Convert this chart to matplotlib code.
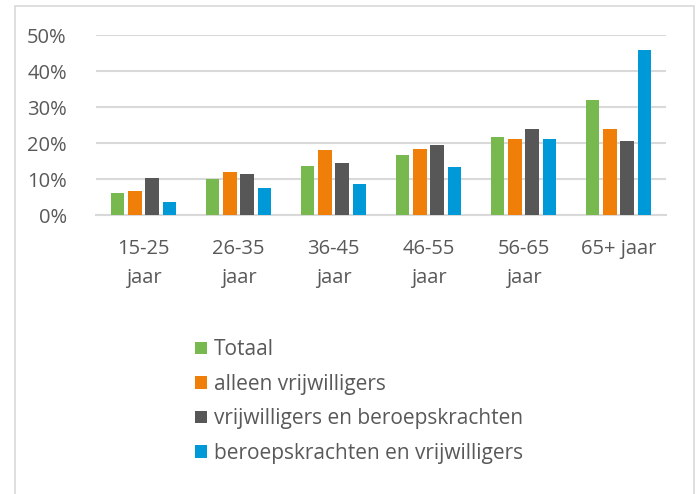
import numpy as np
import matplotlib
matplotlib.use("Agg")
import matplotlib.pyplot as plt
from matplotlib.patches import Rectangle, Patch
from matplotlib.ticker import PercentFormatter

# Data
categories = ["15-25\njaar", "26-35\njaar", "36-45\njaar", "46-55\njaar", "56-65\njaar", "65+ jaar"]
series_names = ["Totaal", "alleen vrijwilligers",
                "vrijwilligers en beroepskrachten", "beroepskrachten en vrijwilligers"]
totaal = [6.2, 10.0, 13.6, 16.6, 21.7, 31.9]
alleen_vrijwilligers = [6.6, 11.9, 18.0, 18.3, 21.1, 23.9]
vrijw_en_beroeps = [10.3, 11.3, 14.5, 19.4, 23.9, 20.5]
beroeps_en_vrijw = [3.6, 7.4, 8.6, 13.3, 21.0, 45.8]
yticks = [0, 10, 20, 30, 40, 50]

colors = ["#77B84F", "#F07F09", "#575757", "#0099D8"]
text_color = "#595959"

plt.rcParams['font.family'] = ['Open Sans', 'DejaVu Sans']

fig = plt.figure(figsize=(6.99, 4.94), dpi=100)
ax = fig.add_axes([96 / 699, 1 - 215 / 494, 570 / 699, 180 / 494])

# outer chart frame
fig.patches.append(Rectangle((15 / 699, -0.05), 679 / 699, 1.05 - 6 / 494,
                             transform=fig.transFigure, fill=False,
                             edgecolor="#d9d9d9", linewidth=1.2))

x = np.arange(len(categories))
pitch = 0.182
width = 0.144
all_series = [totaal, alleen_vrijwilligers, vrijw_en_beroeps, beroeps_en_vrijw]
for i, (vals, name, c) in enumerate(zip(all_series, series_names, colors)):
    ax.bar(x + (i - 1.5) * pitch, vals, width, color=c, label=name, zorder=3)

ax.set_xlim(-0.5, len(categories) - 0.5)
ax.set_ylim(0, 50)
ax.set_yticks(yticks)
ax.yaxis.set_major_formatter(PercentFormatter(decimals=0))
ax.set_xticks(x)
ax.set_xticklabels(categories, linespacing=1.6)

ax.grid(axis="y", color="#d9d9d9", linewidth=1.5, zorder=0)
ax.set_axisbelow(True)
for side in ["top", "right", "left"]:
    ax.spines[side].set_visible(False)
ax.spines["bottom"].set_color("#d9d9d9")
ax.spines["bottom"].set_linewidth(1.5)
ax.tick_params(axis="both", length=0, labelsize=14.5, colors=text_color)
ax.tick_params(axis="y", pad=21)
ax.tick_params(axis="x", pad=17)

handles = [Patch(facecolor=c, label=n) for c, n in zip(colors, series_names)]
leg = fig.legend(handles=handles, loc="upper left",
                 bbox_to_anchor=(187 / 699, 1 - 331 / 494),
                 frameon=False, fontsize=15, handlelength=0.55, handleheight=0.55,
                 handletextpad=0.35, labelspacing=0.65, borderaxespad=0)
for t in leg.get_texts():
    t.set_color(text_color)

plt.savefig("out.png", dpi=100)
